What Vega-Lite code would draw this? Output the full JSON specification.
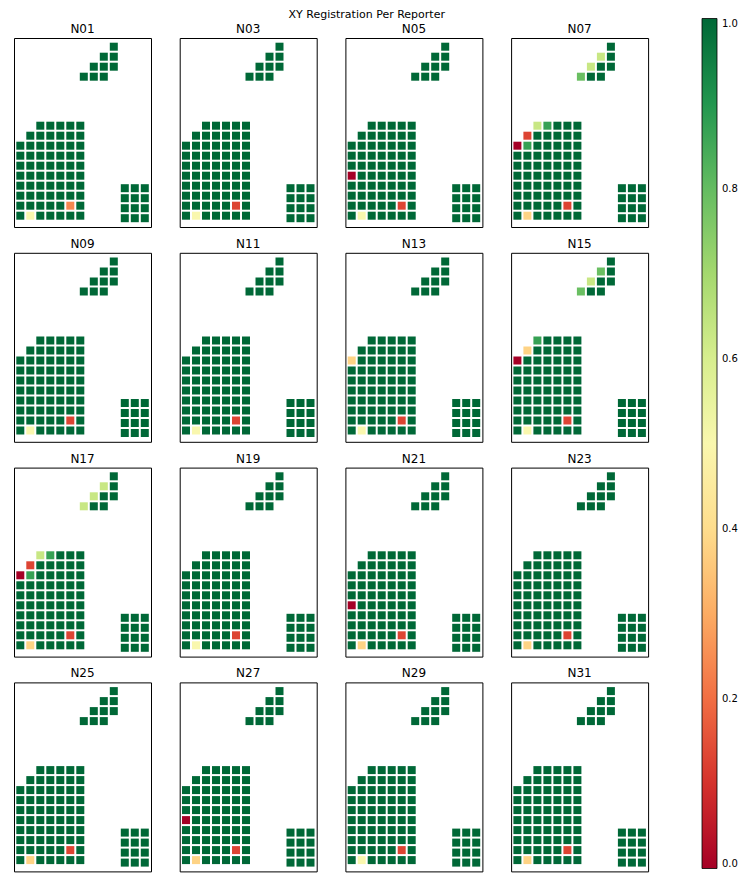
{
"$schema":"https://vega.github.io/schema/vega-lite/v6.json",
"title":{"text":"XY Registration Per Reporter","fontSize":11,"fontWeight":"normal","font":"DejaVu Sans","color":"black","anchor":"middle","frame":"bounds","offset":-1.5,"dx":-9},
"padding":{"left":13,"top":9,"right":5,"bottom":5},
"data":{"values":[
{"p":"N01","x":0,"y":0,"v":1},{"p":"N01","x":1,"y":0,"v":0.5},{"p":"N01","x":2,"y":0,"v":1},{"p":"N01","x":3,"y":0,"v":1},{"p":"N01","x":4,"y":0,"v":1},{"p":"N01","x":5,"y":0,"v":1},{"p":"N01","x":6,"y":0,"v":1},
{"p":"N01","x":0,"y":1,"v":1},{"p":"N01","x":1,"y":1,"v":1},{"p":"N01","x":2,"y":1,"v":1},{"p":"N01","x":3,"y":1,"v":1},{"p":"N01","x":4,"y":1,"v":1},{"p":"N01","x":5,"y":1,"v":0.24},{"p":"N01","x":6,"y":1,"v":1},
{"p":"N01","x":0,"y":2,"v":1},{"p":"N01","x":1,"y":2,"v":1},{"p":"N01","x":2,"y":2,"v":1},{"p":"N01","x":3,"y":2,"v":1},{"p":"N01","x":4,"y":2,"v":1},{"p":"N01","x":5,"y":2,"v":1},{"p":"N01","x":6,"y":2,"v":1},
{"p":"N01","x":0,"y":3,"v":1},{"p":"N01","x":1,"y":3,"v":1},{"p":"N01","x":2,"y":3,"v":1},{"p":"N01","x":3,"y":3,"v":1},{"p":"N01","x":4,"y":3,"v":1},{"p":"N01","x":5,"y":3,"v":1},{"p":"N01","x":6,"y":3,"v":1},
{"p":"N01","x":0,"y":4,"v":1},{"p":"N01","x":1,"y":4,"v":1},{"p":"N01","x":2,"y":4,"v":1},{"p":"N01","x":3,"y":4,"v":1},{"p":"N01","x":4,"y":4,"v":1},{"p":"N01","x":5,"y":4,"v":1},{"p":"N01","x":6,"y":4,"v":1},
{"p":"N01","x":0,"y":5,"v":1},{"p":"N01","x":1,"y":5,"v":1},{"p":"N01","x":2,"y":5,"v":1},{"p":"N01","x":3,"y":5,"v":1},{"p":"N01","x":4,"y":5,"v":1},{"p":"N01","x":5,"y":5,"v":1},{"p":"N01","x":6,"y":5,"v":1},
{"p":"N01","x":0,"y":6,"v":1},{"p":"N01","x":1,"y":6,"v":1},{"p":"N01","x":2,"y":6,"v":1},{"p":"N01","x":3,"y":6,"v":1},{"p":"N01","x":4,"y":6,"v":1},{"p":"N01","x":5,"y":6,"v":1},{"p":"N01","x":6,"y":6,"v":1},
{"p":"N01","x":0,"y":7,"v":1},{"p":"N01","x":1,"y":7,"v":1},{"p":"N01","x":2,"y":7,"v":1},{"p":"N01","x":3,"y":7,"v":1},{"p":"N01","x":4,"y":7,"v":1},{"p":"N01","x":5,"y":7,"v":1},{"p":"N01","x":6,"y":7,"v":1},
{"p":"N01","x":1,"y":8,"v":1},{"p":"N01","x":2,"y":8,"v":1},{"p":"N01","x":3,"y":8,"v":1},{"p":"N01","x":4,"y":8,"v":1},{"p":"N01","x":5,"y":8,"v":1},{"p":"N01","x":6,"y":8,"v":1},
{"p":"N01","x":2,"y":9,"v":1},{"p":"N01","x":3,"y":9,"v":1},{"p":"N01","x":4,"y":9,"v":1},{"p":"N01","x":5,"y":9,"v":1},{"p":"N01","x":6,"y":9,"v":1},
{"p":"N01","x":6.35,"y":13.9,"v":1},{"p":"N01","x":7.35,"y":13.9,"v":1},{"p":"N01","x":8.35,"y":13.9,"v":1},{"p":"N01","x":7.35,"y":14.9,"v":1},{"p":"N01","x":8.35,"y":14.9,"v":1},{"p":"N01","x":9.35,"y":14.9,"v":1},{"p":"N01","x":8.35,"y":15.9,"v":1},{"p":"N01","x":9.35,"y":15.9,"v":1},{"p":"N01","x":9.35,"y":16.9,"v":1},
{"p":"N01","x":10.45,"y":-0.25,"v":1},{"p":"N01","x":11.45,"y":-0.25,"v":1},{"p":"N01","x":12.45,"y":-0.25,"v":1},{"p":"N01","x":10.45,"y":0.75,"v":1},{"p":"N01","x":11.45,"y":0.75,"v":1},{"p":"N01","x":12.45,"y":0.75,"v":1},{"p":"N01","x":10.45,"y":1.75,"v":1},{"p":"N01","x":11.45,"y":1.75,"v":1},{"p":"N01","x":12.45,"y":1.75,"v":1},{"p":"N01","x":10.45,"y":2.75,"v":1},{"p":"N01","x":11.45,"y":2.75,"v":1},{"p":"N01","x":12.45,"y":2.75,"v":1},

{"p":"N03","x":0,"y":0,"v":1},{"p":"N03","x":1,"y":0,"v":0.5},{"p":"N03","x":2,"y":0,"v":1},{"p":"N03","x":3,"y":0,"v":1},{"p":"N03","x":4,"y":0,"v":1},{"p":"N03","x":5,"y":0,"v":1},{"p":"N03","x":6,"y":0,"v":1},
{"p":"N03","x":0,"y":1,"v":1},{"p":"N03","x":1,"y":1,"v":1},{"p":"N03","x":2,"y":1,"v":1},{"p":"N03","x":3,"y":1,"v":1},{"p":"N03","x":4,"y":1,"v":1},{"p":"N03","x":5,"y":1,"v":0.13},{"p":"N03","x":6,"y":1,"v":1},
{"p":"N03","x":0,"y":2,"v":1},{"p":"N03","x":1,"y":2,"v":1},{"p":"N03","x":2,"y":2,"v":1},{"p":"N03","x":3,"y":2,"v":1},{"p":"N03","x":4,"y":2,"v":1},{"p":"N03","x":5,"y":2,"v":1},{"p":"N03","x":6,"y":2,"v":1},
{"p":"N03","x":0,"y":3,"v":1},{"p":"N03","x":1,"y":3,"v":1},{"p":"N03","x":2,"y":3,"v":1},{"p":"N03","x":3,"y":3,"v":1},{"p":"N03","x":4,"y":3,"v":1},{"p":"N03","x":5,"y":3,"v":1},{"p":"N03","x":6,"y":3,"v":1},
{"p":"N03","x":0,"y":4,"v":1},{"p":"N03","x":1,"y":4,"v":1},{"p":"N03","x":2,"y":4,"v":1},{"p":"N03","x":3,"y":4,"v":1},{"p":"N03","x":4,"y":4,"v":1},{"p":"N03","x":5,"y":4,"v":1},{"p":"N03","x":6,"y":4,"v":1},
{"p":"N03","x":0,"y":5,"v":1},{"p":"N03","x":1,"y":5,"v":1},{"p":"N03","x":2,"y":5,"v":1},{"p":"N03","x":3,"y":5,"v":1},{"p":"N03","x":4,"y":5,"v":1},{"p":"N03","x":5,"y":5,"v":1},{"p":"N03","x":6,"y":5,"v":1},
{"p":"N03","x":0,"y":6,"v":1},{"p":"N03","x":1,"y":6,"v":1},{"p":"N03","x":2,"y":6,"v":1},{"p":"N03","x":3,"y":6,"v":1},{"p":"N03","x":4,"y":6,"v":1},{"p":"N03","x":5,"y":6,"v":1},{"p":"N03","x":6,"y":6,"v":1},
{"p":"N03","x":0,"y":7,"v":1},{"p":"N03","x":1,"y":7,"v":1},{"p":"N03","x":2,"y":7,"v":1},{"p":"N03","x":3,"y":7,"v":1},{"p":"N03","x":4,"y":7,"v":1},{"p":"N03","x":5,"y":7,"v":1},{"p":"N03","x":6,"y":7,"v":1},
{"p":"N03","x":1,"y":8,"v":1},{"p":"N03","x":2,"y":8,"v":1},{"p":"N03","x":3,"y":8,"v":1},{"p":"N03","x":4,"y":8,"v":1},{"p":"N03","x":5,"y":8,"v":1},{"p":"N03","x":6,"y":8,"v":1},
{"p":"N03","x":2,"y":9,"v":1},{"p":"N03","x":3,"y":9,"v":1},{"p":"N03","x":4,"y":9,"v":1},{"p":"N03","x":5,"y":9,"v":1},{"p":"N03","x":6,"y":9,"v":1},
{"p":"N03","x":6.35,"y":13.9,"v":1},{"p":"N03","x":7.35,"y":13.9,"v":1},{"p":"N03","x":8.35,"y":13.9,"v":1},{"p":"N03","x":7.35,"y":14.9,"v":1},{"p":"N03","x":8.35,"y":14.9,"v":1},{"p":"N03","x":9.35,"y":14.9,"v":1},{"p":"N03","x":8.35,"y":15.9,"v":1},{"p":"N03","x":9.35,"y":15.9,"v":1},{"p":"N03","x":9.35,"y":16.9,"v":1},
{"p":"N03","x":10.45,"y":-0.25,"v":1},{"p":"N03","x":11.45,"y":-0.25,"v":1},{"p":"N03","x":12.45,"y":-0.25,"v":1},{"p":"N03","x":10.45,"y":0.75,"v":1},{"p":"N03","x":11.45,"y":0.75,"v":1},{"p":"N03","x":12.45,"y":0.75,"v":1},{"p":"N03","x":10.45,"y":1.75,"v":1},{"p":"N03","x":11.45,"y":1.75,"v":1},{"p":"N03","x":12.45,"y":1.75,"v":1},{"p":"N03","x":10.45,"y":2.75,"v":1},{"p":"N03","x":11.45,"y":2.75,"v":1},{"p":"N03","x":12.45,"y":2.75,"v":1},

{"p":"N05","x":0,"y":0,"v":1},{"p":"N05","x":1,"y":0,"v":0.5},{"p":"N05","x":2,"y":0,"v":1},{"p":"N05","x":3,"y":0,"v":1},{"p":"N05","x":4,"y":0,"v":1},{"p":"N05","x":5,"y":0,"v":1},{"p":"N05","x":6,"y":0,"v":1},
{"p":"N05","x":0,"y":1,"v":1},{"p":"N05","x":1,"y":1,"v":1},{"p":"N05","x":2,"y":1,"v":1},{"p":"N05","x":3,"y":1,"v":1},{"p":"N05","x":4,"y":1,"v":1},{"p":"N05","x":5,"y":1,"v":0.13},{"p":"N05","x":6,"y":1,"v":1},
{"p":"N05","x":0,"y":2,"v":1},{"p":"N05","x":1,"y":2,"v":1},{"p":"N05","x":2,"y":2,"v":1},{"p":"N05","x":3,"y":2,"v":1},{"p":"N05","x":4,"y":2,"v":1},{"p":"N05","x":5,"y":2,"v":1},{"p":"N05","x":6,"y":2,"v":1},
{"p":"N05","x":0,"y":3,"v":1},{"p":"N05","x":1,"y":3,"v":1},{"p":"N05","x":2,"y":3,"v":1},{"p":"N05","x":3,"y":3,"v":1},{"p":"N05","x":4,"y":3,"v":1},{"p":"N05","x":5,"y":3,"v":1},{"p":"N05","x":6,"y":3,"v":1},
{"p":"N05","x":0,"y":4,"v":0},{"p":"N05","x":1,"y":4,"v":1},{"p":"N05","x":2,"y":4,"v":1},{"p":"N05","x":3,"y":4,"v":1},{"p":"N05","x":4,"y":4,"v":1},{"p":"N05","x":5,"y":4,"v":1},{"p":"N05","x":6,"y":4,"v":1},
{"p":"N05","x":0,"y":5,"v":1},{"p":"N05","x":1,"y":5,"v":1},{"p":"N05","x":2,"y":5,"v":1},{"p":"N05","x":3,"y":5,"v":1},{"p":"N05","x":4,"y":5,"v":1},{"p":"N05","x":5,"y":5,"v":1},{"p":"N05","x":6,"y":5,"v":1},
{"p":"N05","x":0,"y":6,"v":1},{"p":"N05","x":1,"y":6,"v":1},{"p":"N05","x":2,"y":6,"v":1},{"p":"N05","x":3,"y":6,"v":1},{"p":"N05","x":4,"y":6,"v":1},{"p":"N05","x":5,"y":6,"v":1},{"p":"N05","x":6,"y":6,"v":1},
{"p":"N05","x":0,"y":7,"v":1},{"p":"N05","x":1,"y":7,"v":1},{"p":"N05","x":2,"y":7,"v":1},{"p":"N05","x":3,"y":7,"v":1},{"p":"N05","x":4,"y":7,"v":1},{"p":"N05","x":5,"y":7,"v":1},{"p":"N05","x":6,"y":7,"v":1},
{"p":"N05","x":1,"y":8,"v":1},{"p":"N05","x":2,"y":8,"v":1},{"p":"N05","x":3,"y":8,"v":1},{"p":"N05","x":4,"y":8,"v":1},{"p":"N05","x":5,"y":8,"v":1},{"p":"N05","x":6,"y":8,"v":1},
{"p":"N05","x":2,"y":9,"v":1},{"p":"N05","x":3,"y":9,"v":1},{"p":"N05","x":4,"y":9,"v":1},{"p":"N05","x":5,"y":9,"v":1},{"p":"N05","x":6,"y":9,"v":1},
{"p":"N05","x":6.35,"y":13.9,"v":1},{"p":"N05","x":7.35,"y":13.9,"v":1},{"p":"N05","x":8.35,"y":13.9,"v":1},{"p":"N05","x":7.35,"y":14.9,"v":1},{"p":"N05","x":8.35,"y":14.9,"v":1},{"p":"N05","x":9.35,"y":14.9,"v":1},{"p":"N05","x":8.35,"y":15.9,"v":1},{"p":"N05","x":9.35,"y":15.9,"v":1},{"p":"N05","x":9.35,"y":16.9,"v":1},
{"p":"N05","x":10.45,"y":-0.25,"v":1},{"p":"N05","x":11.45,"y":-0.25,"v":1},{"p":"N05","x":12.45,"y":-0.25,"v":1},{"p":"N05","x":10.45,"y":0.75,"v":1},{"p":"N05","x":11.45,"y":0.75,"v":1},{"p":"N05","x":12.45,"y":0.75,"v":1},{"p":"N05","x":10.45,"y":1.75,"v":1},{"p":"N05","x":11.45,"y":1.75,"v":1},{"p":"N05","x":12.45,"y":1.75,"v":1},{"p":"N05","x":10.45,"y":2.75,"v":1},{"p":"N05","x":11.45,"y":2.75,"v":1},{"p":"N05","x":12.45,"y":2.75,"v":1},

{"p":"N07","x":0,"y":0,"v":1},{"p":"N07","x":1,"y":0,"v":0.38},{"p":"N07","x":2,"y":0,"v":1},{"p":"N07","x":3,"y":0,"v":1},{"p":"N07","x":4,"y":0,"v":1},{"p":"N07","x":5,"y":0,"v":1},{"p":"N07","x":6,"y":0,"v":1},
{"p":"N07","x":0,"y":1,"v":1},{"p":"N07","x":1,"y":1,"v":1},{"p":"N07","x":2,"y":1,"v":1},{"p":"N07","x":3,"y":1,"v":1},{"p":"N07","x":4,"y":1,"v":1},{"p":"N07","x":5,"y":1,"v":0.13},{"p":"N07","x":6,"y":1,"v":1},
{"p":"N07","x":0,"y":2,"v":1},{"p":"N07","x":1,"y":2,"v":1},{"p":"N07","x":2,"y":2,"v":1},{"p":"N07","x":3,"y":2,"v":1},{"p":"N07","x":4,"y":2,"v":1},{"p":"N07","x":5,"y":2,"v":1},{"p":"N07","x":6,"y":2,"v":1},
{"p":"N07","x":0,"y":3,"v":1},{"p":"N07","x":1,"y":3,"v":1},{"p":"N07","x":2,"y":3,"v":1},{"p":"N07","x":3,"y":3,"v":1},{"p":"N07","x":4,"y":3,"v":1},{"p":"N07","x":5,"y":3,"v":1},{"p":"N07","x":6,"y":3,"v":1},
{"p":"N07","x":0,"y":4,"v":1},{"p":"N07","x":1,"y":4,"v":1},{"p":"N07","x":2,"y":4,"v":1},{"p":"N07","x":3,"y":4,"v":1},{"p":"N07","x":4,"y":4,"v":1},{"p":"N07","x":5,"y":4,"v":1},{"p":"N07","x":6,"y":4,"v":1},
{"p":"N07","x":0,"y":5,"v":1},{"p":"N07","x":1,"y":5,"v":1},{"p":"N07","x":2,"y":5,"v":1},{"p":"N07","x":3,"y":5,"v":1},{"p":"N07","x":4,"y":5,"v":1},{"p":"N07","x":5,"y":5,"v":1},{"p":"N07","x":6,"y":5,"v":1},
{"p":"N07","x":0,"y":6,"v":1},{"p":"N07","x":1,"y":6,"v":1},{"p":"N07","x":2,"y":6,"v":1},{"p":"N07","x":3,"y":6,"v":1},{"p":"N07","x":4,"y":6,"v":1},{"p":"N07","x":5,"y":6,"v":1},{"p":"N07","x":6,"y":6,"v":1},
{"p":"N07","x":0,"y":7,"v":0},{"p":"N07","x":1,"y":7,"v":0.87},{"p":"N07","x":2,"y":7,"v":1},{"p":"N07","x":3,"y":7,"v":1},{"p":"N07","x":4,"y":7,"v":1},{"p":"N07","x":5,"y":7,"v":1},{"p":"N07","x":6,"y":7,"v":1},
{"p":"N07","x":1,"y":8,"v":0.13},{"p":"N07","x":2,"y":8,"v":1},{"p":"N07","x":3,"y":8,"v":1},{"p":"N07","x":4,"y":8,"v":1},{"p":"N07","x":5,"y":8,"v":1},{"p":"N07","x":6,"y":8,"v":1},
{"p":"N07","x":2,"y":9,"v":0.63},{"p":"N07","x":3,"y":9,"v":0.87},{"p":"N07","x":4,"y":9,"v":1},{"p":"N07","x":5,"y":9,"v":1},{"p":"N07","x":6,"y":9,"v":1},
{"p":"N07","x":6.35,"y":13.9,"v":0.79},{"p":"N07","x":7.35,"y":13.9,"v":1},{"p":"N07","x":8.35,"y":13.9,"v":1},{"p":"N07","x":7.35,"y":14.9,"v":0.63},{"p":"N07","x":8.35,"y":14.9,"v":1},{"p":"N07","x":9.35,"y":14.9,"v":1},{"p":"N07","x":8.35,"y":15.9,"v":0.63},{"p":"N07","x":9.35,"y":15.9,"v":1},{"p":"N07","x":9.35,"y":16.9,"v":1},
{"p":"N07","x":10.45,"y":-0.25,"v":1},{"p":"N07","x":11.45,"y":-0.25,"v":1},{"p":"N07","x":12.45,"y":-0.25,"v":1},{"p":"N07","x":10.45,"y":0.75,"v":1},{"p":"N07","x":11.45,"y":0.75,"v":1},{"p":"N07","x":12.45,"y":0.75,"v":1},{"p":"N07","x":10.45,"y":1.75,"v":1},{"p":"N07","x":11.45,"y":1.75,"v":1},{"p":"N07","x":12.45,"y":1.75,"v":1},{"p":"N07","x":10.45,"y":2.75,"v":1},{"p":"N07","x":11.45,"y":2.75,"v":1},{"p":"N07","x":12.45,"y":2.75,"v":1},

{"p":"N09","x":0,"y":0,"v":1},{"p":"N09","x":1,"y":0,"v":0.5},{"p":"N09","x":2,"y":0,"v":1},{"p":"N09","x":3,"y":0,"v":1},{"p":"N09","x":4,"y":0,"v":1},{"p":"N09","x":5,"y":0,"v":1},{"p":"N09","x":6,"y":0,"v":1},
{"p":"N09","x":0,"y":1,"v":1},{"p":"N09","x":1,"y":1,"v":1},{"p":"N09","x":2,"y":1,"v":1},{"p":"N09","x":3,"y":1,"v":1},{"p":"N09","x":4,"y":1,"v":1},{"p":"N09","x":5,"y":1,"v":0.13},{"p":"N09","x":6,"y":1,"v":1},
{"p":"N09","x":0,"y":2,"v":1},{"p":"N09","x":1,"y":2,"v":1},{"p":"N09","x":2,"y":2,"v":1},{"p":"N09","x":3,"y":2,"v":1},{"p":"N09","x":4,"y":2,"v":1},{"p":"N09","x":5,"y":2,"v":1},{"p":"N09","x":6,"y":2,"v":1},
{"p":"N09","x":0,"y":3,"v":1},{"p":"N09","x":1,"y":3,"v":1},{"p":"N09","x":2,"y":3,"v":1},{"p":"N09","x":3,"y":3,"v":1},{"p":"N09","x":4,"y":3,"v":1},{"p":"N09","x":5,"y":3,"v":1},{"p":"N09","x":6,"y":3,"v":1},
{"p":"N09","x":0,"y":4,"v":1},{"p":"N09","x":1,"y":4,"v":1},{"p":"N09","x":2,"y":4,"v":1},{"p":"N09","x":3,"y":4,"v":1},{"p":"N09","x":4,"y":4,"v":1},{"p":"N09","x":5,"y":4,"v":1},{"p":"N09","x":6,"y":4,"v":1},
{"p":"N09","x":0,"y":5,"v":1},{"p":"N09","x":1,"y":5,"v":1},{"p":"N09","x":2,"y":5,"v":1},{"p":"N09","x":3,"y":5,"v":1},{"p":"N09","x":4,"y":5,"v":1},{"p":"N09","x":5,"y":5,"v":1},{"p":"N09","x":6,"y":5,"v":1},
{"p":"N09","x":0,"y":6,"v":1},{"p":"N09","x":1,"y":6,"v":1},{"p":"N09","x":2,"y":6,"v":1},{"p":"N09","x":3,"y":6,"v":1},{"p":"N09","x":4,"y":6,"v":1},{"p":"N09","x":5,"y":6,"v":1},{"p":"N09","x":6,"y":6,"v":1},
{"p":"N09","x":0,"y":7,"v":1},{"p":"N09","x":1,"y":7,"v":1},{"p":"N09","x":2,"y":7,"v":1},{"p":"N09","x":3,"y":7,"v":1},{"p":"N09","x":4,"y":7,"v":1},{"p":"N09","x":5,"y":7,"v":1},{"p":"N09","x":6,"y":7,"v":1},
{"p":"N09","x":1,"y":8,"v":1},{"p":"N09","x":2,"y":8,"v":1},{"p":"N09","x":3,"y":8,"v":1},{"p":"N09","x":4,"y":8,"v":1},{"p":"N09","x":5,"y":8,"v":1},{"p":"N09","x":6,"y":8,"v":1},
{"p":"N09","x":2,"y":9,"v":1},{"p":"N09","x":3,"y":9,"v":1},{"p":"N09","x":4,"y":9,"v":1},{"p":"N09","x":5,"y":9,"v":1},{"p":"N09","x":6,"y":9,"v":1},
{"p":"N09","x":6.35,"y":13.9,"v":1},{"p":"N09","x":7.35,"y":13.9,"v":1},{"p":"N09","x":8.35,"y":13.9,"v":1},{"p":"N09","x":7.35,"y":14.9,"v":1},{"p":"N09","x":8.35,"y":14.9,"v":1},{"p":"N09","x":9.35,"y":14.9,"v":1},{"p":"N09","x":8.35,"y":15.9,"v":1},{"p":"N09","x":9.35,"y":15.9,"v":1},{"p":"N09","x":9.35,"y":16.9,"v":1},
{"p":"N09","x":10.45,"y":-0.25,"v":1},{"p":"N09","x":11.45,"y":-0.25,"v":1},{"p":"N09","x":12.45,"y":-0.25,"v":1},{"p":"N09","x":10.45,"y":0.75,"v":1},{"p":"N09","x":11.45,"y":0.75,"v":1},{"p":"N09","x":12.45,"y":0.75,"v":1},{"p":"N09","x":10.45,"y":1.75,"v":1},{"p":"N09","x":11.45,"y":1.75,"v":1},{"p":"N09","x":12.45,"y":1.75,"v":1},{"p":"N09","x":10.45,"y":2.75,"v":1},{"p":"N09","x":11.45,"y":2.75,"v":1},{"p":"N09","x":12.45,"y":2.75,"v":1},

{"p":"N11","x":0,"y":0,"v":1},{"p":"N11","x":1,"y":0,"v":0.5},{"p":"N11","x":2,"y":0,"v":1},{"p":"N11","x":3,"y":0,"v":1},{"p":"N11","x":4,"y":0,"v":1},{"p":"N11","x":5,"y":0,"v":1},{"p":"N11","x":6,"y":0,"v":1},
{"p":"N11","x":0,"y":1,"v":1},{"p":"N11","x":1,"y":1,"v":1},{"p":"N11","x":2,"y":1,"v":1},{"p":"N11","x":3,"y":1,"v":1},{"p":"N11","x":4,"y":1,"v":1},{"p":"N11","x":5,"y":1,"v":0.13},{"p":"N11","x":6,"y":1,"v":1},
{"p":"N11","x":0,"y":2,"v":1},{"p":"N11","x":1,"y":2,"v":1},{"p":"N11","x":2,"y":2,"v":1},{"p":"N11","x":3,"y":2,"v":1},{"p":"N11","x":4,"y":2,"v":1},{"p":"N11","x":5,"y":2,"v":1},{"p":"N11","x":6,"y":2,"v":1},
{"p":"N11","x":0,"y":3,"v":1},{"p":"N11","x":1,"y":3,"v":1},{"p":"N11","x":2,"y":3,"v":1},{"p":"N11","x":3,"y":3,"v":1},{"p":"N11","x":4,"y":3,"v":1},{"p":"N11","x":5,"y":3,"v":1},{"p":"N11","x":6,"y":3,"v":1},
{"p":"N11","x":0,"y":4,"v":1},{"p":"N11","x":1,"y":4,"v":1},{"p":"N11","x":2,"y":4,"v":1},{"p":"N11","x":3,"y":4,"v":1},{"p":"N11","x":4,"y":4,"v":1},{"p":"N11","x":5,"y":4,"v":1},{"p":"N11","x":6,"y":4,"v":1},
{"p":"N11","x":0,"y":5,"v":1},{"p":"N11","x":1,"y":5,"v":1},{"p":"N11","x":2,"y":5,"v":1},{"p":"N11","x":3,"y":5,"v":1},{"p":"N11","x":4,"y":5,"v":1},{"p":"N11","x":5,"y":5,"v":1},{"p":"N11","x":6,"y":5,"v":1},
{"p":"N11","x":0,"y":6,"v":1},{"p":"N11","x":1,"y":6,"v":1},{"p":"N11","x":2,"y":6,"v":1},{"p":"N11","x":3,"y":6,"v":1},{"p":"N11","x":4,"y":6,"v":1},{"p":"N11","x":5,"y":6,"v":1},{"p":"N11","x":6,"y":6,"v":1},
{"p":"N11","x":0,"y":7,"v":1},{"p":"N11","x":1,"y":7,"v":1},{"p":"N11","x":2,"y":7,"v":1},{"p":"N11","x":3,"y":7,"v":1},{"p":"N11","x":4,"y":7,"v":1},{"p":"N11","x":5,"y":7,"v":1},{"p":"N11","x":6,"y":7,"v":1},
{"p":"N11","x":1,"y":8,"v":1},{"p":"N11","x":2,"y":8,"v":1},{"p":"N11","x":3,"y":8,"v":1},{"p":"N11","x":4,"y":8,"v":1},{"p":"N11","x":5,"y":8,"v":1},{"p":"N11","x":6,"y":8,"v":1},
{"p":"N11","x":2,"y":9,"v":1},{"p":"N11","x":3,"y":9,"v":1},{"p":"N11","x":4,"y":9,"v":1},{"p":"N11","x":5,"y":9,"v":1},{"p":"N11","x":6,"y":9,"v":1},
{"p":"N11","x":6.35,"y":13.9,"v":1},{"p":"N11","x":7.35,"y":13.9,"v":1},{"p":"N11","x":8.35,"y":13.9,"v":1},{"p":"N11","x":7.35,"y":14.9,"v":1},{"p":"N11","x":8.35,"y":14.9,"v":1},{"p":"N11","x":9.35,"y":14.9,"v":1},{"p":"N11","x":8.35,"y":15.9,"v":1},{"p":"N11","x":9.35,"y":15.9,"v":1},{"p":"N11","x":9.35,"y":16.9,"v":1},
{"p":"N11","x":10.45,"y":-0.25,"v":1},{"p":"N11","x":11.45,"y":-0.25,"v":1},{"p":"N11","x":12.45,"y":-0.25,"v":1},{"p":"N11","x":10.45,"y":0.75,"v":1},{"p":"N11","x":11.45,"y":0.75,"v":1},{"p":"N11","x":12.45,"y":0.75,"v":1},{"p":"N11","x":10.45,"y":1.75,"v":1},{"p":"N11","x":11.45,"y":1.75,"v":1},{"p":"N11","x":12.45,"y":1.75,"v":1},{"p":"N11","x":10.45,"y":2.75,"v":1},{"p":"N11","x":11.45,"y":2.75,"v":1},{"p":"N11","x":12.45,"y":2.75,"v":1},

{"p":"N13","x":0,"y":0,"v":1},{"p":"N13","x":1,"y":0,"v":0.5},{"p":"N13","x":2,"y":0,"v":1},{"p":"N13","x":3,"y":0,"v":1},{"p":"N13","x":4,"y":0,"v":1},{"p":"N13","x":5,"y":0,"v":1},{"p":"N13","x":6,"y":0,"v":1},
{"p":"N13","x":0,"y":1,"v":1},{"p":"N13","x":1,"y":1,"v":1},{"p":"N13","x":2,"y":1,"v":1},{"p":"N13","x":3,"y":1,"v":1},{"p":"N13","x":4,"y":1,"v":1},{"p":"N13","x":5,"y":1,"v":0.13},{"p":"N13","x":6,"y":1,"v":1},
{"p":"N13","x":0,"y":2,"v":1},{"p":"N13","x":1,"y":2,"v":1},{"p":"N13","x":2,"y":2,"v":1},{"p":"N13","x":3,"y":2,"v":1},{"p":"N13","x":4,"y":2,"v":1},{"p":"N13","x":5,"y":2,"v":1},{"p":"N13","x":6,"y":2,"v":1},
{"p":"N13","x":0,"y":3,"v":1},{"p":"N13","x":1,"y":3,"v":1},{"p":"N13","x":2,"y":3,"v":1},{"p":"N13","x":3,"y":3,"v":1},{"p":"N13","x":4,"y":3,"v":1},{"p":"N13","x":5,"y":3,"v":1},{"p":"N13","x":6,"y":3,"v":1},
{"p":"N13","x":0,"y":4,"v":1},{"p":"N13","x":1,"y":4,"v":1},{"p":"N13","x":2,"y":4,"v":1},{"p":"N13","x":3,"y":4,"v":1},{"p":"N13","x":4,"y":4,"v":1},{"p":"N13","x":5,"y":4,"v":1},{"p":"N13","x":6,"y":4,"v":1},
{"p":"N13","x":0,"y":5,"v":1},{"p":"N13","x":1,"y":5,"v":1},{"p":"N13","x":2,"y":5,"v":1},{"p":"N13","x":3,"y":5,"v":1},{"p":"N13","x":4,"y":5,"v":1},{"p":"N13","x":5,"y":5,"v":1},{"p":"N13","x":6,"y":5,"v":1},
{"p":"N13","x":0,"y":6,"v":1},{"p":"N13","x":1,"y":6,"v":1},{"p":"N13","x":2,"y":6,"v":1},{"p":"N13","x":3,"y":6,"v":1},{"p":"N13","x":4,"y":6,"v":1},{"p":"N13","x":5,"y":6,"v":1},{"p":"N13","x":6,"y":6,"v":1},
{"p":"N13","x":0,"y":7,"v":0.38},{"p":"N13","x":1,"y":7,"v":1},{"p":"N13","x":2,"y":7,"v":1},{"p":"N13","x":3,"y":7,"v":1},{"p":"N13","x":4,"y":7,"v":1},{"p":"N13","x":5,"y":7,"v":1},{"p":"N13","x":6,"y":7,"v":1},
{"p":"N13","x":1,"y":8,"v":1},{"p":"N13","x":2,"y":8,"v":1},{"p":"N13","x":3,"y":8,"v":1},{"p":"N13","x":4,"y":8,"v":1},{"p":"N13","x":5,"y":8,"v":1},{"p":"N13","x":6,"y":8,"v":1},
{"p":"N13","x":2,"y":9,"v":1},{"p":"N13","x":3,"y":9,"v":1},{"p":"N13","x":4,"y":9,"v":1},{"p":"N13","x":5,"y":9,"v":1},{"p":"N13","x":6,"y":9,"v":1},
{"p":"N13","x":6.35,"y":13.9,"v":1},{"p":"N13","x":7.35,"y":13.9,"v":1},{"p":"N13","x":8.35,"y":13.9,"v":1},{"p":"N13","x":7.35,"y":14.9,"v":1},{"p":"N13","x":8.35,"y":14.9,"v":1},{"p":"N13","x":9.35,"y":14.9,"v":1},{"p":"N13","x":8.35,"y":15.9,"v":1},{"p":"N13","x":9.35,"y":15.9,"v":1},{"p":"N13","x":9.35,"y":16.9,"v":1},
{"p":"N13","x":10.45,"y":-0.25,"v":1},{"p":"N13","x":11.45,"y":-0.25,"v":1},{"p":"N13","x":12.45,"y":-0.25,"v":1},{"p":"N13","x":10.45,"y":0.75,"v":1},{"p":"N13","x":11.45,"y":0.75,"v":1},{"p":"N13","x":12.45,"y":0.75,"v":1},{"p":"N13","x":10.45,"y":1.75,"v":1},{"p":"N13","x":11.45,"y":1.75,"v":1},{"p":"N13","x":12.45,"y":1.75,"v":1},{"p":"N13","x":10.45,"y":2.75,"v":1},{"p":"N13","x":11.45,"y":2.75,"v":1},{"p":"N13","x":12.45,"y":2.75,"v":1},

{"p":"N15","x":0,"y":0,"v":1},{"p":"N15","x":1,"y":0,"v":0.5},{"p":"N15","x":2,"y":0,"v":1},{"p":"N15","x":3,"y":0,"v":1},{"p":"N15","x":4,"y":0,"v":1},{"p":"N15","x":5,"y":0,"v":1},{"p":"N15","x":6,"y":0,"v":1},
{"p":"N15","x":0,"y":1,"v":1},{"p":"N15","x":1,"y":1,"v":1},{"p":"N15","x":2,"y":1,"v":1},{"p":"N15","x":3,"y":1,"v":1},{"p":"N15","x":4,"y":1,"v":1},{"p":"N15","x":5,"y":1,"v":0.13},{"p":"N15","x":6,"y":1,"v":1},
{"p":"N15","x":0,"y":2,"v":1},{"p":"N15","x":1,"y":2,"v":1},{"p":"N15","x":2,"y":2,"v":1},{"p":"N15","x":3,"y":2,"v":1},{"p":"N15","x":4,"y":2,"v":1},{"p":"N15","x":5,"y":2,"v":1},{"p":"N15","x":6,"y":2,"v":1},
{"p":"N15","x":0,"y":3,"v":1},{"p":"N15","x":1,"y":3,"v":1},{"p":"N15","x":2,"y":3,"v":1},{"p":"N15","x":3,"y":3,"v":1},{"p":"N15","x":4,"y":3,"v":1},{"p":"N15","x":5,"y":3,"v":1},{"p":"N15","x":6,"y":3,"v":1},
{"p":"N15","x":0,"y":4,"v":1},{"p":"N15","x":1,"y":4,"v":1},{"p":"N15","x":2,"y":4,"v":1},{"p":"N15","x":3,"y":4,"v":1},{"p":"N15","x":4,"y":4,"v":1},{"p":"N15","x":5,"y":4,"v":1},{"p":"N15","x":6,"y":4,"v":1},
{"p":"N15","x":0,"y":5,"v":1},{"p":"N15","x":1,"y":5,"v":1},{"p":"N15","x":2,"y":5,"v":1},{"p":"N15","x":3,"y":5,"v":1},{"p":"N15","x":4,"y":5,"v":1},{"p":"N15","x":5,"y":5,"v":1},{"p":"N15","x":6,"y":5,"v":1},
{"p":"N15","x":0,"y":6,"v":1},{"p":"N15","x":1,"y":6,"v":1},{"p":"N15","x":2,"y":6,"v":1},{"p":"N15","x":3,"y":6,"v":1},{"p":"N15","x":4,"y":6,"v":1},{"p":"N15","x":5,"y":6,"v":1},{"p":"N15","x":6,"y":6,"v":1},
{"p":"N15","x":0,"y":7,"v":0},{"p":"N15","x":1,"y":7,"v":1},{"p":"N15","x":2,"y":7,"v":1},{"p":"N15","x":3,"y":7,"v":1},{"p":"N15","x":4,"y":7,"v":1},{"p":"N15","x":5,"y":7,"v":1},{"p":"N15","x":6,"y":7,"v":1},
{"p":"N15","x":1,"y":8,"v":0.38},{"p":"N15","x":2,"y":8,"v":1},{"p":"N15","x":3,"y":8,"v":1},{"p":"N15","x":4,"y":8,"v":1},{"p":"N15","x":5,"y":8,"v":1},{"p":"N15","x":6,"y":8,"v":1},
{"p":"N15","x":2,"y":9,"v":0.87},{"p":"N15","x":3,"y":9,"v":1},{"p":"N15","x":4,"y":9,"v":1},{"p":"N15","x":5,"y":9,"v":1},{"p":"N15","x":6,"y":9,"v":1},
{"p":"N15","x":6.35,"y":13.9,"v":0.79},{"p":"N15","x":7.35,"y":13.9,"v":1},{"p":"N15","x":8.35,"y":13.9,"v":1},{"p":"N15","x":7.35,"y":14.9,"v":0.63},{"p":"N15","x":8.35,"y":14.9,"v":1},{"p":"N15","x":9.35,"y":14.9,"v":1},{"p":"N15","x":8.35,"y":15.9,"v":0.79},{"p":"N15","x":9.35,"y":15.9,"v":1},{"p":"N15","x":9.35,"y":16.9,"v":1},
{"p":"N15","x":10.45,"y":-0.25,"v":1},{"p":"N15","x":11.45,"y":-0.25,"v":1},{"p":"N15","x":12.45,"y":-0.25,"v":1},{"p":"N15","x":10.45,"y":0.75,"v":1},{"p":"N15","x":11.45,"y":0.75,"v":1},{"p":"N15","x":12.45,"y":0.75,"v":1},{"p":"N15","x":10.45,"y":1.75,"v":1},{"p":"N15","x":11.45,"y":1.75,"v":1},{"p":"N15","x":12.45,"y":1.75,"v":1},{"p":"N15","x":10.45,"y":2.75,"v":1},{"p":"N15","x":11.45,"y":2.75,"v":1},{"p":"N15","x":12.45,"y":2.75,"v":1},

{"p":"N17","x":0,"y":0,"v":1},{"p":"N17","x":1,"y":0,"v":0.38},{"p":"N17","x":2,"y":0,"v":1},{"p":"N17","x":3,"y":0,"v":1},{"p":"N17","x":4,"y":0,"v":1},{"p":"N17","x":5,"y":0,"v":1},{"p":"N17","x":6,"y":0,"v":1},
{"p":"N17","x":0,"y":1,"v":1},{"p":"N17","x":1,"y":1,"v":1},{"p":"N17","x":2,"y":1,"v":1},{"p":"N17","x":3,"y":1,"v":1},{"p":"N17","x":4,"y":1,"v":1},{"p":"N17","x":5,"y":1,"v":0.13},{"p":"N17","x":6,"y":1,"v":1},
{"p":"N17","x":0,"y":2,"v":1},{"p":"N17","x":1,"y":2,"v":1},{"p":"N17","x":2,"y":2,"v":1},{"p":"N17","x":3,"y":2,"v":1},{"p":"N17","x":4,"y":2,"v":1},{"p":"N17","x":5,"y":2,"v":1},{"p":"N17","x":6,"y":2,"v":1},
{"p":"N17","x":0,"y":3,"v":1},{"p":"N17","x":1,"y":3,"v":1},{"p":"N17","x":2,"y":3,"v":1},{"p":"N17","x":3,"y":3,"v":1},{"p":"N17","x":4,"y":3,"v":1},{"p":"N17","x":5,"y":3,"v":1},{"p":"N17","x":6,"y":3,"v":1},
{"p":"N17","x":0,"y":4,"v":1},{"p":"N17","x":1,"y":4,"v":1},{"p":"N17","x":2,"y":4,"v":1},{"p":"N17","x":3,"y":4,"v":1},{"p":"N17","x":4,"y":4,"v":1},{"p":"N17","x":5,"y":4,"v":1},{"p":"N17","x":6,"y":4,"v":1},
{"p":"N17","x":0,"y":5,"v":1},{"p":"N17","x":1,"y":5,"v":1},{"p":"N17","x":2,"y":5,"v":1},{"p":"N17","x":3,"y":5,"v":1},{"p":"N17","x":4,"y":5,"v":1},{"p":"N17","x":5,"y":5,"v":1},{"p":"N17","x":6,"y":5,"v":1},
{"p":"N17","x":0,"y":6,"v":1},{"p":"N17","x":1,"y":6,"v":1},{"p":"N17","x":2,"y":6,"v":1},{"p":"N17","x":3,"y":6,"v":1},{"p":"N17","x":4,"y":6,"v":1},{"p":"N17","x":5,"y":6,"v":1},{"p":"N17","x":6,"y":6,"v":1},
{"p":"N17","x":0,"y":7,"v":0},{"p":"N17","x":1,"y":7,"v":0.87},{"p":"N17","x":2,"y":7,"v":1},{"p":"N17","x":3,"y":7,"v":1},{"p":"N17","x":4,"y":7,"v":1},{"p":"N17","x":5,"y":7,"v":1},{"p":"N17","x":6,"y":7,"v":1},
{"p":"N17","x":1,"y":8,"v":0.13},{"p":"N17","x":2,"y":8,"v":1},{"p":"N17","x":3,"y":8,"v":1},{"p":"N17","x":4,"y":8,"v":1},{"p":"N17","x":5,"y":8,"v":1},{"p":"N17","x":6,"y":8,"v":1},
{"p":"N17","x":2,"y":9,"v":0.63},{"p":"N17","x":3,"y":9,"v":0.87},{"p":"N17","x":4,"y":9,"v":1},{"p":"N17","x":5,"y":9,"v":1},{"p":"N17","x":6,"y":9,"v":1},
{"p":"N17","x":6.35,"y":13.9,"v":0.63},{"p":"N17","x":7.35,"y":13.9,"v":1},{"p":"N17","x":8.35,"y":13.9,"v":1},{"p":"N17","x":7.35,"y":14.9,"v":0.63},{"p":"N17","x":8.35,"y":14.9,"v":1},{"p":"N17","x":9.35,"y":14.9,"v":1},{"p":"N17","x":8.35,"y":15.9,"v":0.63},{"p":"N17","x":9.35,"y":15.9,"v":1},{"p":"N17","x":9.35,"y":16.9,"v":1},
{"p":"N17","x":10.45,"y":-0.25,"v":1},{"p":"N17","x":11.45,"y":-0.25,"v":1},{"p":"N17","x":12.45,"y":-0.25,"v":1},{"p":"N17","x":10.45,"y":0.75,"v":1},{"p":"N17","x":11.45,"y":0.75,"v":1},{"p":"N17","x":12.45,"y":0.75,"v":1},{"p":"N17","x":10.45,"y":1.75,"v":1},{"p":"N17","x":11.45,"y":1.75,"v":1},{"p":"N17","x":12.45,"y":1.75,"v":1},{"p":"N17","x":10.45,"y":2.75,"v":1},{"p":"N17","x":11.45,"y":2.75,"v":1},{"p":"N17","x":12.45,"y":2.75,"v":1},

{"p":"N19","x":0,"y":0,"v":1},{"p":"N19","x":1,"y":0,"v":0.5},{"p":"N19","x":2,"y":0,"v":1},{"p":"N19","x":3,"y":0,"v":1},{"p":"N19","x":4,"y":0,"v":1},{"p":"N19","x":5,"y":0,"v":1},{"p":"N19","x":6,"y":0,"v":1},
{"p":"N19","x":0,"y":1,"v":1},{"p":"N19","x":1,"y":1,"v":1},{"p":"N19","x":2,"y":1,"v":1},{"p":"N19","x":3,"y":1,"v":1},{"p":"N19","x":4,"y":1,"v":1},{"p":"N19","x":5,"y":1,"v":0.13},{"p":"N19","x":6,"y":1,"v":1},
{"p":"N19","x":0,"y":2,"v":1},{"p":"N19","x":1,"y":2,"v":1},{"p":"N19","x":2,"y":2,"v":1},{"p":"N19","x":3,"y":2,"v":1},{"p":"N19","x":4,"y":2,"v":1},{"p":"N19","x":5,"y":2,"v":1},{"p":"N19","x":6,"y":2,"v":1},
{"p":"N19","x":0,"y":3,"v":1},{"p":"N19","x":1,"y":3,"v":1},{"p":"N19","x":2,"y":3,"v":1},{"p":"N19","x":3,"y":3,"v":1},{"p":"N19","x":4,"y":3,"v":1},{"p":"N19","x":5,"y":3,"v":1},{"p":"N19","x":6,"y":3,"v":1},
{"p":"N19","x":0,"y":4,"v":1},{"p":"N19","x":1,"y":4,"v":1},{"p":"N19","x":2,"y":4,"v":1},{"p":"N19","x":3,"y":4,"v":1},{"p":"N19","x":4,"y":4,"v":1},{"p":"N19","x":5,"y":4,"v":1},{"p":"N19","x":6,"y":4,"v":1},
{"p":"N19","x":0,"y":5,"v":1},{"p":"N19","x":1,"y":5,"v":1},{"p":"N19","x":2,"y":5,"v":1},{"p":"N19","x":3,"y":5,"v":1},{"p":"N19","x":4,"y":5,"v":1},{"p":"N19","x":5,"y":5,"v":1},{"p":"N19","x":6,"y":5,"v":1},
{"p":"N19","x":0,"y":6,"v":1},{"p":"N19","x":1,"y":6,"v":1},{"p":"N19","x":2,"y":6,"v":1},{"p":"N19","x":3,"y":6,"v":1},{"p":"N19","x":4,"y":6,"v":1},{"p":"N19","x":5,"y":6,"v":1},{"p":"N19","x":6,"y":6,"v":1},
{"p":"N19","x":0,"y":7,"v":1},{"p":"N19","x":1,"y":7,"v":1},{"p":"N19","x":2,"y":7,"v":1},{"p":"N19","x":3,"y":7,"v":1},{"p":"N19","x":4,"y":7,"v":1},{"p":"N19","x":5,"y":7,"v":1},{"p":"N19","x":6,"y":7,"v":1},
{"p":"N19","x":1,"y":8,"v":1},{"p":"N19","x":2,"y":8,"v":1},{"p":"N19","x":3,"y":8,"v":1},{"p":"N19","x":4,"y":8,"v":1},{"p":"N19","x":5,"y":8,"v":1},{"p":"N19","x":6,"y":8,"v":1},
{"p":"N19","x":2,"y":9,"v":1},{"p":"N19","x":3,"y":9,"v":1},{"p":"N19","x":4,"y":9,"v":1},{"p":"N19","x":5,"y":9,"v":1},{"p":"N19","x":6,"y":9,"v":1},
{"p":"N19","x":6.35,"y":13.9,"v":1},{"p":"N19","x":7.35,"y":13.9,"v":1},{"p":"N19","x":8.35,"y":13.9,"v":1},{"p":"N19","x":7.35,"y":14.9,"v":1},{"p":"N19","x":8.35,"y":14.9,"v":1},{"p":"N19","x":9.35,"y":14.9,"v":1},{"p":"N19","x":8.35,"y":15.9,"v":1},{"p":"N19","x":9.35,"y":15.9,"v":1},{"p":"N19","x":9.35,"y":16.9,"v":1},
{"p":"N19","x":10.45,"y":-0.25,"v":1},{"p":"N19","x":11.45,"y":-0.25,"v":1},{"p":"N19","x":12.45,"y":-0.25,"v":1},{"p":"N19","x":10.45,"y":0.75,"v":1},{"p":"N19","x":11.45,"y":0.75,"v":1},{"p":"N19","x":12.45,"y":0.75,"v":1},{"p":"N19","x":10.45,"y":1.75,"v":1},{"p":"N19","x":11.45,"y":1.75,"v":1},{"p":"N19","x":12.45,"y":1.75,"v":1},{"p":"N19","x":10.45,"y":2.75,"v":1},{"p":"N19","x":11.45,"y":2.75,"v":1},{"p":"N19","x":12.45,"y":2.75,"v":1},

{"p":"N21","x":0,"y":0,"v":1},{"p":"N21","x":1,"y":0,"v":0.38},{"p":"N21","x":2,"y":0,"v":1},{"p":"N21","x":3,"y":0,"v":1},{"p":"N21","x":4,"y":0,"v":1},{"p":"N21","x":5,"y":0,"v":1},{"p":"N21","x":6,"y":0,"v":1},
{"p":"N21","x":0,"y":1,"v":1},{"p":"N21","x":1,"y":1,"v":1},{"p":"N21","x":2,"y":1,"v":1},{"p":"N21","x":3,"y":1,"v":1},{"p":"N21","x":4,"y":1,"v":1},{"p":"N21","x":5,"y":1,"v":0.13},{"p":"N21","x":6,"y":1,"v":1},
{"p":"N21","x":0,"y":2,"v":1},{"p":"N21","x":1,"y":2,"v":1},{"p":"N21","x":2,"y":2,"v":1},{"p":"N21","x":3,"y":2,"v":1},{"p":"N21","x":4,"y":2,"v":1},{"p":"N21","x":5,"y":2,"v":1},{"p":"N21","x":6,"y":2,"v":1},
{"p":"N21","x":0,"y":3,"v":1},{"p":"N21","x":1,"y":3,"v":1},{"p":"N21","x":2,"y":3,"v":1},{"p":"N21","x":3,"y":3,"v":1},{"p":"N21","x":4,"y":3,"v":1},{"p":"N21","x":5,"y":3,"v":1},{"p":"N21","x":6,"y":3,"v":1},
{"p":"N21","x":0,"y":4,"v":0},{"p":"N21","x":1,"y":4,"v":1},{"p":"N21","x":2,"y":4,"v":1},{"p":"N21","x":3,"y":4,"v":1},{"p":"N21","x":4,"y":4,"v":1},{"p":"N21","x":5,"y":4,"v":1},{"p":"N21","x":6,"y":4,"v":1},
{"p":"N21","x":0,"y":5,"v":1},{"p":"N21","x":1,"y":5,"v":1},{"p":"N21","x":2,"y":5,"v":1},{"p":"N21","x":3,"y":5,"v":1},{"p":"N21","x":4,"y":5,"v":1},{"p":"N21","x":5,"y":5,"v":1},{"p":"N21","x":6,"y":5,"v":1},
{"p":"N21","x":0,"y":6,"v":1},{"p":"N21","x":1,"y":6,"v":1},{"p":"N21","x":2,"y":6,"v":1},{"p":"N21","x":3,"y":6,"v":1},{"p":"N21","x":4,"y":6,"v":1},{"p":"N21","x":5,"y":6,"v":1},{"p":"N21","x":6,"y":6,"v":1},
{"p":"N21","x":0,"y":7,"v":1},{"p":"N21","x":1,"y":7,"v":1},{"p":"N21","x":2,"y":7,"v":1},{"p":"N21","x":3,"y":7,"v":1},{"p":"N21","x":4,"y":7,"v":1},{"p":"N21","x":5,"y":7,"v":1},{"p":"N21","x":6,"y":7,"v":1},
{"p":"N21","x":1,"y":8,"v":1},{"p":"N21","x":2,"y":8,"v":1},{"p":"N21","x":3,"y":8,"v":1},{"p":"N21","x":4,"y":8,"v":1},{"p":"N21","x":5,"y":8,"v":1},{"p":"N21","x":6,"y":8,"v":1},
{"p":"N21","x":2,"y":9,"v":1},{"p":"N21","x":3,"y":9,"v":1},{"p":"N21","x":4,"y":9,"v":1},{"p":"N21","x":5,"y":9,"v":1},{"p":"N21","x":6,"y":9,"v":1},
{"p":"N21","x":6.35,"y":13.9,"v":1},{"p":"N21","x":7.35,"y":13.9,"v":1},{"p":"N21","x":8.35,"y":13.9,"v":1},{"p":"N21","x":7.35,"y":14.9,"v":1},{"p":"N21","x":8.35,"y":14.9,"v":1},{"p":"N21","x":9.35,"y":14.9,"v":1},{"p":"N21","x":8.35,"y":15.9,"v":1},{"p":"N21","x":9.35,"y":15.9,"v":1},{"p":"N21","x":9.35,"y":16.9,"v":1},
{"p":"N21","x":10.45,"y":-0.25,"v":1},{"p":"N21","x":11.45,"y":-0.25,"v":1},{"p":"N21","x":12.45,"y":-0.25,"v":1},{"p":"N21","x":10.45,"y":0.75,"v":1},{"p":"N21","x":11.45,"y":0.75,"v":1},{"p":"N21","x":12.45,"y":0.75,"v":1},{"p":"N21","x":10.45,"y":1.75,"v":1},{"p":"N21","x":11.45,"y":1.75,"v":1},{"p":"N21","x":12.45,"y":1.75,"v":1},{"p":"N21","x":10.45,"y":2.75,"v":1},{"p":"N21","x":11.45,"y":2.75,"v":1},{"p":"N21","x":12.45,"y":2.75,"v":1},

{"p":"N23","x":0,"y":0,"v":1},{"p":"N23","x":1,"y":0,"v":0.38},{"p":"N23","x":2,"y":0,"v":1},{"p":"N23","x":3,"y":0,"v":1},{"p":"N23","x":4,"y":0,"v":1},{"p":"N23","x":5,"y":0,"v":1},{"p":"N23","x":6,"y":0,"v":1},
{"p":"N23","x":0,"y":1,"v":1},{"p":"N23","x":1,"y":1,"v":1},{"p":"N23","x":2,"y":1,"v":1},{"p":"N23","x":3,"y":1,"v":1},{"p":"N23","x":4,"y":1,"v":1},{"p":"N23","x":5,"y":1,"v":0.13},{"p":"N23","x":6,"y":1,"v":1},
{"p":"N23","x":0,"y":2,"v":1},{"p":"N23","x":1,"y":2,"v":1},{"p":"N23","x":2,"y":2,"v":1},{"p":"N23","x":3,"y":2,"v":1},{"p":"N23","x":4,"y":2,"v":1},{"p":"N23","x":5,"y":2,"v":1},{"p":"N23","x":6,"y":2,"v":1},
{"p":"N23","x":0,"y":3,"v":1},{"p":"N23","x":1,"y":3,"v":1},{"p":"N23","x":2,"y":3,"v":1},{"p":"N23","x":3,"y":3,"v":1},{"p":"N23","x":4,"y":3,"v":1},{"p":"N23","x":5,"y":3,"v":1},{"p":"N23","x":6,"y":3,"v":1},
{"p":"N23","x":0,"y":4,"v":1},{"p":"N23","x":1,"y":4,"v":1},{"p":"N23","x":2,"y":4,"v":1},{"p":"N23","x":3,"y":4,"v":1},{"p":"N23","x":4,"y":4,"v":1},{"p":"N23","x":5,"y":4,"v":1},{"p":"N23","x":6,"y":4,"v":1},
{"p":"N23","x":0,"y":5,"v":1},{"p":"N23","x":1,"y":5,"v":1},{"p":"N23","x":2,"y":5,"v":1},{"p":"N23","x":3,"y":5,"v":1},{"p":"N23","x":4,"y":5,"v":1},{"p":"N23","x":5,"y":5,"v":1},{"p":"N23","x":6,"y":5,"v":1},
{"p":"N23","x":0,"y":6,"v":1},{"p":"N23","x":1,"y":6,"v":1},{"p":"N23","x":2,"y":6,"v":1},{"p":"N23","x":3,"y":6,"v":1},{"p":"N23","x":4,"y":6,"v":1},{"p":"N23","x":5,"y":6,"v":1},{"p":"N23","x":6,"y":6,"v":1},
{"p":"N23","x":0,"y":7,"v":1},{"p":"N23","x":1,"y":7,"v":1},{"p":"N23","x":2,"y":7,"v":1},{"p":"N23","x":3,"y":7,"v":1},{"p":"N23","x":4,"y":7,"v":1},{"p":"N23","x":5,"y":7,"v":1},{"p":"N23","x":6,"y":7,"v":1},
{"p":"N23","x":1,"y":8,"v":1},{"p":"N23","x":2,"y":8,"v":1},{"p":"N23","x":3,"y":8,"v":1},{"p":"N23","x":4,"y":8,"v":1},{"p":"N23","x":5,"y":8,"v":1},{"p":"N23","x":6,"y":8,"v":1},
{"p":"N23","x":2,"y":9,"v":1},{"p":"N23","x":3,"y":9,"v":1},{"p":"N23","x":4,"y":9,"v":1},{"p":"N23","x":5,"y":9,"v":1},{"p":"N23","x":6,"y":9,"v":1},
{"p":"N23","x":6.35,"y":13.9,"v":1},{"p":"N23","x":7.35,"y":13.9,"v":1},{"p":"N23","x":8.35,"y":13.9,"v":1},{"p":"N23","x":7.35,"y":14.9,"v":1},{"p":"N23","x":8.35,"y":14.9,"v":1},{"p":"N23","x":9.35,"y":14.9,"v":1},{"p":"N23","x":8.35,"y":15.9,"v":1},{"p":"N23","x":9.35,"y":15.9,"v":1},{"p":"N23","x":9.35,"y":16.9,"v":1},
{"p":"N23","x":10.45,"y":-0.25,"v":1},{"p":"N23","x":11.45,"y":-0.25,"v":1},{"p":"N23","x":12.45,"y":-0.25,"v":1},{"p":"N23","x":10.45,"y":0.75,"v":1},{"p":"N23","x":11.45,"y":0.75,"v":1},{"p":"N23","x":12.45,"y":0.75,"v":1},{"p":"N23","x":10.45,"y":1.75,"v":1},{"p":"N23","x":11.45,"y":1.75,"v":1},{"p":"N23","x":12.45,"y":1.75,"v":1},{"p":"N23","x":10.45,"y":2.75,"v":1},{"p":"N23","x":11.45,"y":2.75,"v":1},{"p":"N23","x":12.45,"y":2.75,"v":1},

{"p":"N25","x":0,"y":0,"v":1},{"p":"N25","x":1,"y":0,"v":0.38},{"p":"N25","x":2,"y":0,"v":1},{"p":"N25","x":3,"y":0,"v":1},{"p":"N25","x":4,"y":0,"v":1},{"p":"N25","x":5,"y":0,"v":1},{"p":"N25","x":6,"y":0,"v":1},
{"p":"N25","x":0,"y":1,"v":1},{"p":"N25","x":1,"y":1,"v":1},{"p":"N25","x":2,"y":1,"v":1},{"p":"N25","x":3,"y":1,"v":1},{"p":"N25","x":4,"y":1,"v":1},{"p":"N25","x":5,"y":1,"v":0.13},{"p":"N25","x":6,"y":1,"v":1},
{"p":"N25","x":0,"y":2,"v":1},{"p":"N25","x":1,"y":2,"v":1},{"p":"N25","x":2,"y":2,"v":1},{"p":"N25","x":3,"y":2,"v":1},{"p":"N25","x":4,"y":2,"v":1},{"p":"N25","x":5,"y":2,"v":1},{"p":"N25","x":6,"y":2,"v":1},
{"p":"N25","x":0,"y":3,"v":1},{"p":"N25","x":1,"y":3,"v":1},{"p":"N25","x":2,"y":3,"v":1},{"p":"N25","x":3,"y":3,"v":1},{"p":"N25","x":4,"y":3,"v":1},{"p":"N25","x":5,"y":3,"v":1},{"p":"N25","x":6,"y":3,"v":1},
{"p":"N25","x":0,"y":4,"v":1},{"p":"N25","x":1,"y":4,"v":1},{"p":"N25","x":2,"y":4,"v":1},{"p":"N25","x":3,"y":4,"v":1},{"p":"N25","x":4,"y":4,"v":1},{"p":"N25","x":5,"y":4,"v":1},{"p":"N25","x":6,"y":4,"v":1},
{"p":"N25","x":0,"y":5,"v":1},{"p":"N25","x":1,"y":5,"v":1},{"p":"N25","x":2,"y":5,"v":1},{"p":"N25","x":3,"y":5,"v":1},{"p":"N25","x":4,"y":5,"v":1},{"p":"N25","x":5,"y":5,"v":1},{"p":"N25","x":6,"y":5,"v":1},
{"p":"N25","x":0,"y":6,"v":1},{"p":"N25","x":1,"y":6,"v":1},{"p":"N25","x":2,"y":6,"v":1},{"p":"N25","x":3,"y":6,"v":1},{"p":"N25","x":4,"y":6,"v":1},{"p":"N25","x":5,"y":6,"v":1},{"p":"N25","x":6,"y":6,"v":1},
{"p":"N25","x":0,"y":7,"v":1},{"p":"N25","x":1,"y":7,"v":1},{"p":"N25","x":2,"y":7,"v":1},{"p":"N25","x":3,"y":7,"v":1},{"p":"N25","x":4,"y":7,"v":1},{"p":"N25","x":5,"y":7,"v":1},{"p":"N25","x":6,"y":7,"v":1},
{"p":"N25","x":1,"y":8,"v":1},{"p":"N25","x":2,"y":8,"v":1},{"p":"N25","x":3,"y":8,"v":1},{"p":"N25","x":4,"y":8,"v":1},{"p":"N25","x":5,"y":8,"v":1},{"p":"N25","x":6,"y":8,"v":1},
{"p":"N25","x":2,"y":9,"v":1},{"p":"N25","x":3,"y":9,"v":1},{"p":"N25","x":4,"y":9,"v":1},{"p":"N25","x":5,"y":9,"v":1},{"p":"N25","x":6,"y":9,"v":1},
{"p":"N25","x":6.35,"y":13.9,"v":1},{"p":"N25","x":7.35,"y":13.9,"v":1},{"p":"N25","x":8.35,"y":13.9,"v":1},{"p":"N25","x":7.35,"y":14.9,"v":1},{"p":"N25","x":8.35,"y":14.9,"v":1},{"p":"N25","x":9.35,"y":14.9,"v":1},{"p":"N25","x":8.35,"y":15.9,"v":1},{"p":"N25","x":9.35,"y":15.9,"v":1},{"p":"N25","x":9.35,"y":16.9,"v":1},
{"p":"N25","x":10.45,"y":-0.25,"v":1},{"p":"N25","x":11.45,"y":-0.25,"v":1},{"p":"N25","x":12.45,"y":-0.25,"v":1},{"p":"N25","x":10.45,"y":0.75,"v":1},{"p":"N25","x":11.45,"y":0.75,"v":1},{"p":"N25","x":12.45,"y":0.75,"v":1},{"p":"N25","x":10.45,"y":1.75,"v":1},{"p":"N25","x":11.45,"y":1.75,"v":1},{"p":"N25","x":12.45,"y":1.75,"v":1},{"p":"N25","x":10.45,"y":2.75,"v":1},{"p":"N25","x":11.45,"y":2.75,"v":1},{"p":"N25","x":12.45,"y":2.75,"v":1},

{"p":"N27","x":0,"y":0,"v":1},{"p":"N27","x":1,"y":0,"v":0.38},{"p":"N27","x":2,"y":0,"v":1},{"p":"N27","x":3,"y":0,"v":1},{"p":"N27","x":4,"y":0,"v":1},{"p":"N27","x":5,"y":0,"v":1},{"p":"N27","x":6,"y":0,"v":1},
{"p":"N27","x":0,"y":1,"v":1},{"p":"N27","x":1,"y":1,"v":1},{"p":"N27","x":2,"y":1,"v":1},{"p":"N27","x":3,"y":1,"v":1},{"p":"N27","x":4,"y":1,"v":1},{"p":"N27","x":5,"y":1,"v":0.13},{"p":"N27","x":6,"y":1,"v":1},
{"p":"N27","x":0,"y":2,"v":1},{"p":"N27","x":1,"y":2,"v":1},{"p":"N27","x":2,"y":2,"v":1},{"p":"N27","x":3,"y":2,"v":1},{"p":"N27","x":4,"y":2,"v":1},{"p":"N27","x":5,"y":2,"v":1},{"p":"N27","x":6,"y":2,"v":1},
{"p":"N27","x":0,"y":3,"v":1},{"p":"N27","x":1,"y":3,"v":1},{"p":"N27","x":2,"y":3,"v":1},{"p":"N27","x":3,"y":3,"v":1},{"p":"N27","x":4,"y":3,"v":1},{"p":"N27","x":5,"y":3,"v":1},{"p":"N27","x":6,"y":3,"v":1},
{"p":"N27","x":0,"y":4,"v":0},{"p":"N27","x":1,"y":4,"v":1},{"p":"N27","x":2,"y":4,"v":1},{"p":"N27","x":3,"y":4,"v":1},{"p":"N27","x":4,"y":4,"v":1},{"p":"N27","x":5,"y":4,"v":1},{"p":"N27","x":6,"y":4,"v":1},
{"p":"N27","x":0,"y":5,"v":1},{"p":"N27","x":1,"y":5,"v":1},{"p":"N27","x":2,"y":5,"v":1},{"p":"N27","x":3,"y":5,"v":1},{"p":"N27","x":4,"y":5,"v":1},{"p":"N27","x":5,"y":5,"v":1},{"p":"N27","x":6,"y":5,"v":1},
{"p":"N27","x":0,"y":6,"v":1},{"p":"N27","x":1,"y":6,"v":1},{"p":"N27","x":2,"y":6,"v":1},{"p":"N27","x":3,"y":6,"v":1},{"p":"N27","x":4,"y":6,"v":1},{"p":"N27","x":5,"y":6,"v":1},{"p":"N27","x":6,"y":6,"v":1},
{"p":"N27","x":0,"y":7,"v":1},{"p":"N27","x":1,"y":7,"v":1},{"p":"N27","x":2,"y":7,"v":1},{"p":"N27","x":3,"y":7,"v":1},{"p":"N27","x":4,"y":7,"v":1},{"p":"N27","x":5,"y":7,"v":1},{"p":"N27","x":6,"y":7,"v":1},
{"p":"N27","x":1,"y":8,"v":1},{"p":"N27","x":2,"y":8,"v":1},{"p":"N27","x":3,"y":8,"v":1},{"p":"N27","x":4,"y":8,"v":1},{"p":"N27","x":5,"y":8,"v":1},{"p":"N27","x":6,"y":8,"v":1},
{"p":"N27","x":2,"y":9,"v":1},{"p":"N27","x":3,"y":9,"v":1},{"p":"N27","x":4,"y":9,"v":1},{"p":"N27","x":5,"y":9,"v":1},{"p":"N27","x":6,"y":9,"v":1},
{"p":"N27","x":6.35,"y":13.9,"v":1},{"p":"N27","x":7.35,"y":13.9,"v":1},{"p":"N27","x":8.35,"y":13.9,"v":1},{"p":"N27","x":7.35,"y":14.9,"v":1},{"p":"N27","x":8.35,"y":14.9,"v":1},{"p":"N27","x":9.35,"y":14.9,"v":1},{"p":"N27","x":8.35,"y":15.9,"v":1},{"p":"N27","x":9.35,"y":15.9,"v":1},{"p":"N27","x":9.35,"y":16.9,"v":1},
{"p":"N27","x":10.45,"y":-0.25,"v":1},{"p":"N27","x":11.45,"y":-0.25,"v":1},{"p":"N27","x":12.45,"y":-0.25,"v":1},{"p":"N27","x":10.45,"y":0.75,"v":1},{"p":"N27","x":11.45,"y":0.75,"v":1},{"p":"N27","x":12.45,"y":0.75,"v":1},{"p":"N27","x":10.45,"y":1.75,"v":1},{"p":"N27","x":11.45,"y":1.75,"v":1},{"p":"N27","x":12.45,"y":1.75,"v":1},{"p":"N27","x":10.45,"y":2.75,"v":1},{"p":"N27","x":11.45,"y":2.75,"v":1},{"p":"N27","x":12.45,"y":2.75,"v":1},

{"p":"N29","x":0,"y":0,"v":1},{"p":"N29","x":1,"y":0,"v":0.5},{"p":"N29","x":2,"y":0,"v":1},{"p":"N29","x":3,"y":0,"v":1},{"p":"N29","x":4,"y":0,"v":1},{"p":"N29","x":5,"y":0,"v":1},{"p":"N29","x":6,"y":0,"v":1},
{"p":"N29","x":0,"y":1,"v":1},{"p":"N29","x":1,"y":1,"v":1},{"p":"N29","x":2,"y":1,"v":1},{"p":"N29","x":3,"y":1,"v":1},{"p":"N29","x":4,"y":1,"v":1},{"p":"N29","x":5,"y":1,"v":0.13},{"p":"N29","x":6,"y":1,"v":1},
{"p":"N29","x":0,"y":2,"v":1},{"p":"N29","x":1,"y":2,"v":1},{"p":"N29","x":2,"y":2,"v":1},{"p":"N29","x":3,"y":2,"v":1},{"p":"N29","x":4,"y":2,"v":1},{"p":"N29","x":5,"y":2,"v":1},{"p":"N29","x":6,"y":2,"v":1},
{"p":"N29","x":0,"y":3,"v":1},{"p":"N29","x":1,"y":3,"v":1},{"p":"N29","x":2,"y":3,"v":1},{"p":"N29","x":3,"y":3,"v":1},{"p":"N29","x":4,"y":3,"v":1},{"p":"N29","x":5,"y":3,"v":1},{"p":"N29","x":6,"y":3,"v":1},
{"p":"N29","x":0,"y":4,"v":1},{"p":"N29","x":1,"y":4,"v":1},{"p":"N29","x":2,"y":4,"v":1},{"p":"N29","x":3,"y":4,"v":1},{"p":"N29","x":4,"y":4,"v":1},{"p":"N29","x":5,"y":4,"v":1},{"p":"N29","x":6,"y":4,"v":1},
{"p":"N29","x":0,"y":5,"v":1},{"p":"N29","x":1,"y":5,"v":1},{"p":"N29","x":2,"y":5,"v":1},{"p":"N29","x":3,"y":5,"v":1},{"p":"N29","x":4,"y":5,"v":1},{"p":"N29","x":5,"y":5,"v":1},{"p":"N29","x":6,"y":5,"v":1},
{"p":"N29","x":0,"y":6,"v":1},{"p":"N29","x":1,"y":6,"v":1},{"p":"N29","x":2,"y":6,"v":1},{"p":"N29","x":3,"y":6,"v":1},{"p":"N29","x":4,"y":6,"v":1},{"p":"N29","x":5,"y":6,"v":1},{"p":"N29","x":6,"y":6,"v":1},
{"p":"N29","x":0,"y":7,"v":1},{"p":"N29","x":1,"y":7,"v":1},{"p":"N29","x":2,"y":7,"v":1},{"p":"N29","x":3,"y":7,"v":1},{"p":"N29","x":4,"y":7,"v":1},{"p":"N29","x":5,"y":7,"v":1},{"p":"N29","x":6,"y":7,"v":1},
{"p":"N29","x":1,"y":8,"v":1},{"p":"N29","x":2,"y":8,"v":1},{"p":"N29","x":3,"y":8,"v":1},{"p":"N29","x":4,"y":8,"v":1},{"p":"N29","x":5,"y":8,"v":1},{"p":"N29","x":6,"y":8,"v":1},
{"p":"N29","x":2,"y":9,"v":1},{"p":"N29","x":3,"y":9,"v":1},{"p":"N29","x":4,"y":9,"v":1},{"p":"N29","x":5,"y":9,"v":1},{"p":"N29","x":6,"y":9,"v":1},
{"p":"N29","x":6.35,"y":13.9,"v":1},{"p":"N29","x":7.35,"y":13.9,"v":1},{"p":"N29","x":8.35,"y":13.9,"v":1},{"p":"N29","x":7.35,"y":14.9,"v":1},{"p":"N29","x":8.35,"y":14.9,"v":1},{"p":"N29","x":9.35,"y":14.9,"v":1},{"p":"N29","x":8.35,"y":15.9,"v":1},{"p":"N29","x":9.35,"y":15.9,"v":1},{"p":"N29","x":9.35,"y":16.9,"v":1},
{"p":"N29","x":10.45,"y":-0.25,"v":1},{"p":"N29","x":11.45,"y":-0.25,"v":1},{"p":"N29","x":12.45,"y":-0.25,"v":1},{"p":"N29","x":10.45,"y":0.75,"v":1},{"p":"N29","x":11.45,"y":0.75,"v":1},{"p":"N29","x":12.45,"y":0.75,"v":1},{"p":"N29","x":10.45,"y":1.75,"v":1},{"p":"N29","x":11.45,"y":1.75,"v":1},{"p":"N29","x":12.45,"y":1.75,"v":1},{"p":"N29","x":10.45,"y":2.75,"v":1},{"p":"N29","x":11.45,"y":2.75,"v":1},{"p":"N29","x":12.45,"y":2.75,"v":1},

{"p":"N31","x":0,"y":0,"v":1},{"p":"N31","x":1,"y":0,"v":0.38},{"p":"N31","x":2,"y":0,"v":1},{"p":"N31","x":3,"y":0,"v":1},{"p":"N31","x":4,"y":0,"v":1},{"p":"N31","x":5,"y":0,"v":1},{"p":"N31","x":6,"y":0,"v":1},
{"p":"N31","x":0,"y":1,"v":1},{"p":"N31","x":1,"y":1,"v":1},{"p":"N31","x":2,"y":1,"v":1},{"p":"N31","x":3,"y":1,"v":1},{"p":"N31","x":4,"y":1,"v":1},{"p":"N31","x":5,"y":1,"v":0.13},{"p":"N31","x":6,"y":1,"v":1},
{"p":"N31","x":0,"y":2,"v":1},{"p":"N31","x":1,"y":2,"v":1},{"p":"N31","x":2,"y":2,"v":1},{"p":"N31","x":3,"y":2,"v":1},{"p":"N31","x":4,"y":2,"v":1},{"p":"N31","x":5,"y":2,"v":1},{"p":"N31","x":6,"y":2,"v":1},
{"p":"N31","x":0,"y":3,"v":1},{"p":"N31","x":1,"y":3,"v":1},{"p":"N31","x":2,"y":3,"v":1},{"p":"N31","x":3,"y":3,"v":1},{"p":"N31","x":4,"y":3,"v":1},{"p":"N31","x":5,"y":3,"v":1},{"p":"N31","x":6,"y":3,"v":1},
{"p":"N31","x":0,"y":4,"v":1},{"p":"N31","x":1,"y":4,"v":1},{"p":"N31","x":2,"y":4,"v":1},{"p":"N31","x":3,"y":4,"v":1},{"p":"N31","x":4,"y":4,"v":1},{"p":"N31","x":5,"y":4,"v":1},{"p":"N31","x":6,"y":4,"v":1},
{"p":"N31","x":0,"y":5,"v":1},{"p":"N31","x":1,"y":5,"v":1},{"p":"N31","x":2,"y":5,"v":1},{"p":"N31","x":3,"y":5,"v":1},{"p":"N31","x":4,"y":5,"v":1},{"p":"N31","x":5,"y":5,"v":1},{"p":"N31","x":6,"y":5,"v":1},
{"p":"N31","x":0,"y":6,"v":1},{"p":"N31","x":1,"y":6,"v":1},{"p":"N31","x":2,"y":6,"v":1},{"p":"N31","x":3,"y":6,"v":1},{"p":"N31","x":4,"y":6,"v":1},{"p":"N31","x":5,"y":6,"v":1},{"p":"N31","x":6,"y":6,"v":1},
{"p":"N31","x":0,"y":7,"v":1},{"p":"N31","x":1,"y":7,"v":1},{"p":"N31","x":2,"y":7,"v":1},{"p":"N31","x":3,"y":7,"v":1},{"p":"N31","x":4,"y":7,"v":1},{"p":"N31","x":5,"y":7,"v":1},{"p":"N31","x":6,"y":7,"v":1},
{"p":"N31","x":1,"y":8,"v":1},{"p":"N31","x":2,"y":8,"v":1},{"p":"N31","x":3,"y":8,"v":1},{"p":"N31","x":4,"y":8,"v":1},{"p":"N31","x":5,"y":8,"v":1},{"p":"N31","x":6,"y":8,"v":1},
{"p":"N31","x":2,"y":9,"v":1},{"p":"N31","x":3,"y":9,"v":1},{"p":"N31","x":4,"y":9,"v":1},{"p":"N31","x":5,"y":9,"v":1},{"p":"N31","x":6,"y":9,"v":1},
{"p":"N31","x":6.35,"y":13.9,"v":1},{"p":"N31","x":7.35,"y":13.9,"v":1},{"p":"N31","x":8.35,"y":13.9,"v":1},{"p":"N31","x":7.35,"y":14.9,"v":1},{"p":"N31","x":8.35,"y":14.9,"v":1},{"p":"N31","x":9.35,"y":14.9,"v":1},{"p":"N31","x":8.35,"y":15.9,"v":1},{"p":"N31","x":9.35,"y":15.9,"v":1},{"p":"N31","x":9.35,"y":16.9,"v":1},
{"p":"N31","x":10.45,"y":-0.25,"v":1},{"p":"N31","x":11.45,"y":-0.25,"v":1},{"p":"N31","x":12.45,"y":-0.25,"v":1},{"p":"N31","x":10.45,"y":0.75,"v":1},{"p":"N31","x":11.45,"y":0.75,"v":1},{"p":"N31","x":12.45,"y":0.75,"v":1},{"p":"N31","x":10.45,"y":1.75,"v":1},{"p":"N31","x":11.45,"y":1.75,"v":1},{"p":"N31","x":12.45,"y":1.75,"v":1},{"p":"N31","x":10.45,"y":2.75,"v":1},{"p":"N31","x":11.45,"y":2.75,"v":1},{"p":"N31","x":12.45,"y":2.75,"v":1}
]},
"facet":{"field":"p","type":"nominal","header":{"title":null,"labelFontSize":12,"labelFont":"DejaVu Sans","labelColor":"black","labelPadding":2}},
"columns":4,
"spacing":{"row":8.8,"column":26.7},
"spec":{
"width":137,"height":189,
"mark":{"type":"square","size":64,"opacity":1},
"encoding":{
"x":{"field":"x","type":"quantitative","scale":{"domain":[-0.63,13.07],"nice":false,"zero":false},"axis":null},
"y":{"field":"y","type":"quantitative","scale":{"domain":[-1.13,17.77],"nice":false,"zero":false},"axis":null},
"color":{"field":"v","type":"quantitative","scale":{"scheme":"redyellowgreen","domain":[0,1]},"legend":{"title":null,"orient":"none","legendX":688,"legendY":-19.5,"direction":"vertical","gradientLength":850,"gradientThickness":15,"values":[0,0.2,0.4,0.6,0.8,1],"format":".1f","labelFontSize":10,"labelFont":"DejaVu Sans","labelColor":"black","labelOffset":5,"gradientStrokeColor":"black","gradientStrokeWidth":0.8}}
}
},
"config":{"view":{"stroke":"black","strokeWidth":1}}
}
